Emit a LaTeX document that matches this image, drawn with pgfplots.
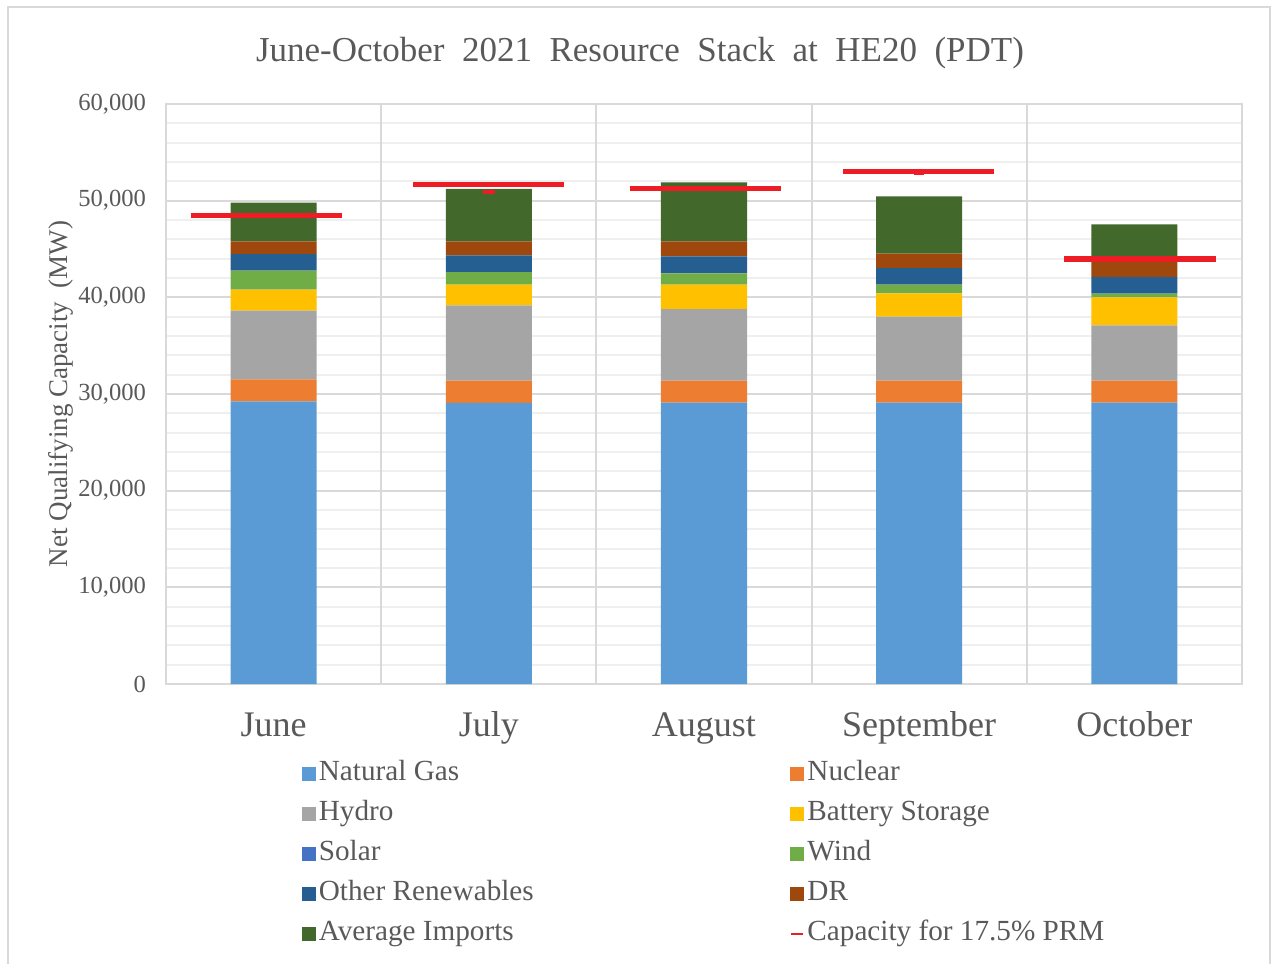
\documentclass[border=0pt]{standalone}
\usepackage{pgfplots}
\pgfplotsset{compat=1.18}
\usepackage{fontspec}
\setmainfont{Liberation Serif}
\definecolor{cNG}{HTML}{5B9BD5}
\definecolor{cNuc}{HTML}{ED7D31}
\definecolor{cHyd}{HTML}{A5A5A5}
\definecolor{cBat}{HTML}{FFC000}
\definecolor{cSol}{HTML}{4472C4}
\definecolor{cWind}{HTML}{70AD47}
\definecolor{cOR}{HTML}{255E91}
\definecolor{cDR}{HTML}{9E480E}
\definecolor{cImp}{HTML}{43682B}
\definecolor{cPRM}{HTML}{EE1C25}
\definecolor{txt}{HTML}{595959}
\definecolor{gridmaj}{HTML}{D9D9D9}
\definecolor{gridmin}{HTML}{EFEFEF}
\begin{document}
\begin{tikzpicture}[x=1pt,y=1pt]
\path (0,0) rectangle (635.5,482);
\draw[gridmaj, line width=1pt] (4,0) -- (4,478.5) -- (635,478.5) -- (635,0);
\node[text=txt, font=\fontsize{17.5}{20}\selectfont] at (320,455.5) {June-October\ \ 2021\ \ Resource\ \ Stack\ \ at\ \ HE20\ \ (PDT)};
\begin{axis}[
  at={(83pt,140pt)}, anchor=south west,
  scale only axis, width=538pt, height=290pt,
  xmin=-0.5, xmax=4.5, ymin=0, ymax=60000,
  ybar stacked, bar width=0.4,
  xtick={0,1,2,3,4},
  xticklabels={June,July,August,September,October},
  xticklabel style={font=\fontsize{18}{20}\selectfont, text=txt, anchor=base, yshift=-26pt},
  ytick={0,10000,20000,30000,40000,50000,60000},
  minor ytick={2000,4000,...,58000},
  yticklabel style={font=\fontsize{12.3}{14}\selectfont, text=txt, xshift=-6.5pt},
  /pgf/number format/.cd, 1000 sep={,}, assume math mode=true,
  /pgfplots/.cd,
  scaled y ticks=false,
  major tick length=0pt, minor tick length=0pt,
  ymajorgrids, yminorgrids,
  major grid style={gridmaj, line width=1pt},
  minor grid style={gridmin, line width=1pt},
  extra x ticks={0.5,1.5,2.5,3.5},
  extra x tick labels={},
  extra x tick style={grid=major, major grid style={gridmaj, line width=1pt}},
  axis line style={gridmaj, line width=1pt},
  ylabel={Net Qualifying Capacity\ \ (MW)},
  every axis y label/.style={at={(axis description cs:-0.098,0.5)}, rotate=90, anchor=center, font=\fontsize{13.5}{15}\selectfont, text=txt},
  legend columns=2,
  legend cell align=left,
  legend style={at={(axis description cs:0.12,-0.12)}, anchor=north west, draw=none, fill=none,
    font=\fontsize{14.6}{16}\selectfont, text=txt, row sep=4pt,
    /tikz/every even column/.append style={column sep=126.5pt},
    nodes={inner sep=1.5pt, text height=10pt, text depth=3pt}},
  legend image code/.code={\fill[#1, draw=none] (-1.5pt,-3.6pt) rectangle (5.7pt,3.6pt);},
]
\addplot[fill=cNG, draw=none] coordinates {(0,29250) (1,29070) (2,29100) (3,29100) (4,29100)};
\addlegendentry{Natural Gas}
\addplot[fill=cNuc, draw=none] coordinates {(0,2270) (1,2310) (2,2280) (3,2280) (4,2280)};
\addlegendentry{Nuclear}
\addplot[fill=cHyd, draw=none] coordinates {(0,7100) (1,7790) (2,7410) (3,6620) (4,5720)};
\addlegendentry{Hydro}
\addplot[fill=cBat, draw=none] coordinates {(0,2170) (1,2140) (2,2520) (3,2410) (4,2900)};
\addlegendentry{Battery Storage}
\addplot[fill=cSol, draw=none] coordinates {(0,0) (1,0) (2,0) (3,0) (4,0)};
\addlegendentry{Solar}
\addplot[fill=cWind, draw=none] coordinates {(0,1970) (1,1310) (2,1170) (3,900) (4,380)};
\addlegendentry{Wind}
\addplot[fill=cOR, draw=none] coordinates {(0,1720) (1,1730) (2,1760) (3,1720) (4,1720)};
\addlegendentry{Other Renewables}
\addplot[fill=cDR, draw=none] coordinates {(0,1320) (1,1450) (2,1560) (3,1490) (4,1860)};
\addlegendentry{DR}
\addplot[fill=cImp, draw=none] coordinates {(0,3990) (1,5410) (2,6100) (3,5930) (4,3590)};
\addlegendentry{Average Imports}
\addlegendimage{legend image code/.code={\draw[cPRM, line width=1.3pt] (-1pt,0pt) -- (5pt,0pt);}}
\addlegendentry{Capacity for 17.5\% PRM}
\end{axis}
\begin{axis}[
  at={(83pt,140pt)}, anchor=south west,
  scale only axis, width=538pt, height=290pt,
  xmin=-0.5, xmax=4.5, ymin=0, ymax=60000,
  hide axis, unbounded coords=jump,
]
\addplot[cPRM, line width=2.6pt, mark=none] coordinates {
  (-0.386,48480) (0.316,48480) (0.5,nan)
  (0.646,51690) (1.348,51690) (1.5,nan)
  (1.656,51280) (2.358,51280) (2.5,nan)
  (2.646,52990) (3.348,52990) (3.5,nan)
  (3.675,43960) (4.377,43960)};
\addplot[cPRM, line width=1.6pt, mark=none] coordinates {
  (0.972,50900) (1.028,50900) (1.5,nan)
  (2.977,52780) (3.023,52780)};
\end{axis}
\end{tikzpicture}
\end{document}
